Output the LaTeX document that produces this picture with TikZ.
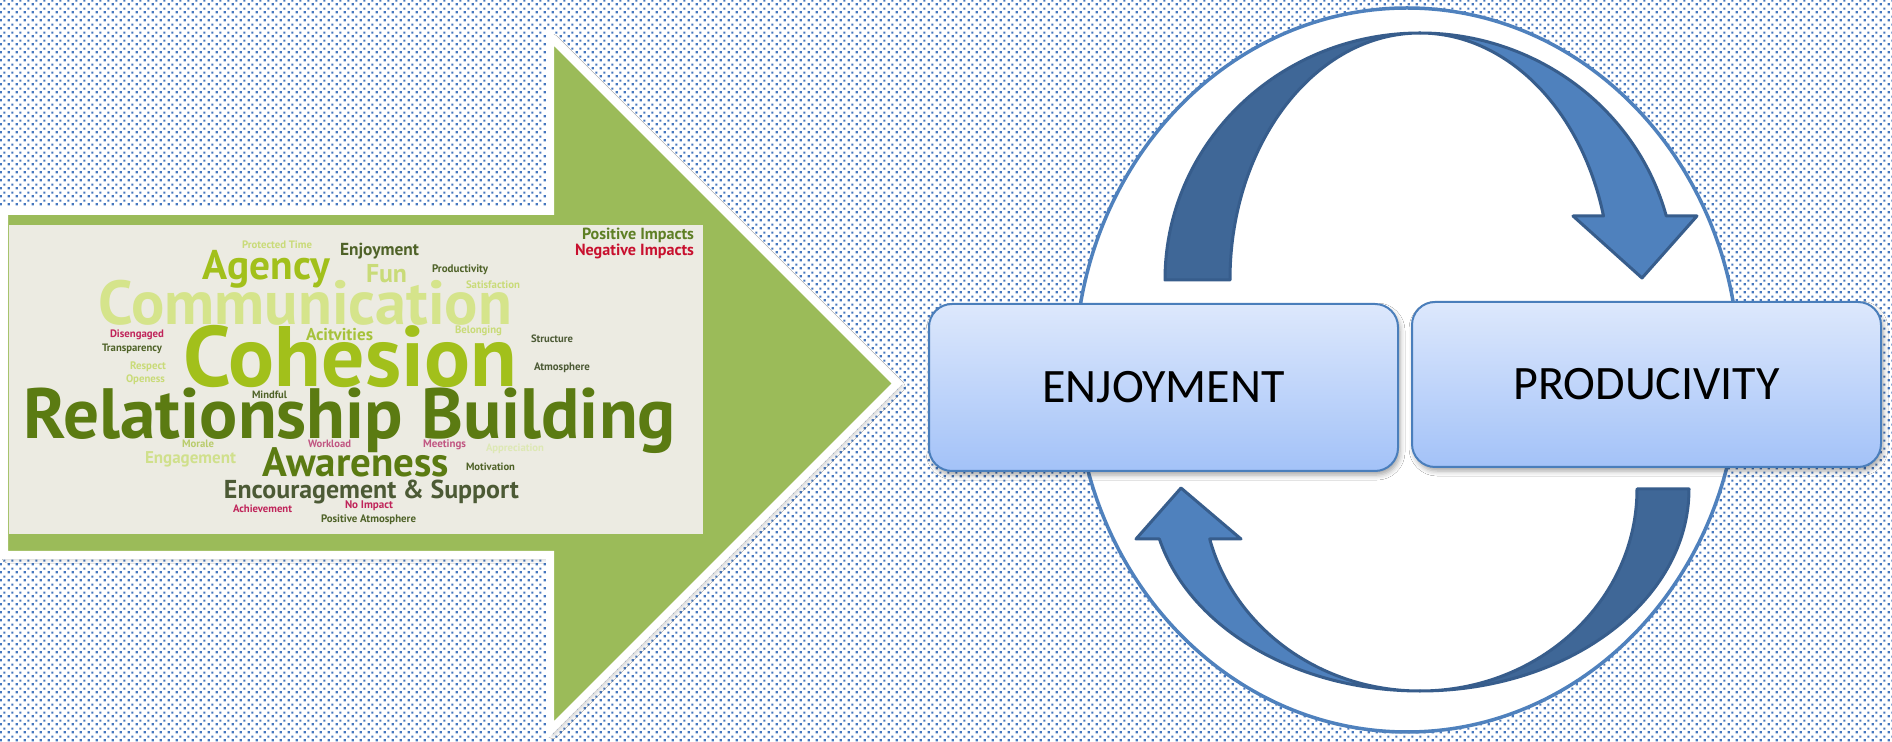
\documentclass[tikz,border=0pt]{standalone}
\usepackage{fontspec}
\usepackage{graphicx}
\usetikzlibrary{patterns,shadows.blur}
\newfontfamily\wcfont{PT Sans}
\newfontfamily\boxfont{Carlito}

% staggered dot texture of the backdrop
\pgfdeclarepatternformonly{bgdots}{\pgfpointorigin}{\pgfqpoint{4pt}{4pt}}{\pgfqpoint{4pt}{4pt}}{%
  \pgfpathrectangle{\pgfqpoint{0.4pt}{0.4pt}}{\pgfqpoint{1.25pt}{1.25pt}}%
  \pgfpathrectangle{\pgfqpoint{2.4pt}{2.4pt}}{\pgfqpoint{1.25pt}{1.25pt}}%
  \pgfusepath{fill}}

\definecolor{dotblue}{HTML}{4677BE}
\definecolor{arrowgreen}{HTML}{9BBB59}
\definecolor{cloudbg}{HTML}{ECEBE2}
\definecolor{ringblue}{HTML}{4F81BD}
\definecolor{bandlight}{HTML}{4F81BD}
\definecolor{banddark}{HTML}{3F6797}
\definecolor{bandline}{HTML}{375D8C}
\definecolor{boxtop}{HTML}{DDE8FC}
\definecolor{boxbot}{HTML}{A3C2F8}
\definecolor{boxline}{HTML}{4A7EBB}
% word colours
\definecolor{cPos}{HTML}{5E7F24}
\definecolor{cNeg}{HTML}{C8102E}
\definecolor{cPale}{HTML}{C9DB78}
\definecolor{cDark}{HTML}{4F6228}
\definecolor{cGrey}{HTML}{4C5A35}
\definecolor{cLime}{HTML}{A2C01B}
\definecolor{cAct}{HTML}{A6C23A}
\definecolor{cComm}{HTML}{D5E48B}
\definecolor{cOlive}{HTML}{5B7B12}
\definecolor{cCrim}{HTML}{C0245A}
\definecolor{cPink}{HTML}{C15682}
\definecolor{cMor}{HTML}{B9CC6C}
\definecolor{cAppr}{HTML}{DDE8B4}
\definecolor{cEng}{HTML}{D0E08C}

\newlength\wcu
\setlength\wcu{0.5pt}
% one word of the cloud: name, x, y, width, colour, text
\newcommand\cw[6]{\node[cloudword,text=#5] (#1) at (#2,-#3) {\resizebox{#4\wcu}{!}{#6}};}

\begin{document}
\begin{tikzpicture}[x=0.5pt,y=0.5pt,
  cloudword/.style={inner sep=0pt,outer sep=0pt,anchor=center,text depth=0pt,font=\wcfont\bfseries},
  bigarrow/.style={fill=arrowgreen,draw=white,line width=4pt,miter limit=20,
    blur shadow={shadow xshift=1.5pt,shadow yshift=-1.5pt,shadow blur radius=2.5pt,shadow opacity=35}},
  ring/.style={fill=white,draw=ringblue,line width=1.75pt},
  banddarkpart/.style={fill=banddark,draw=bandline,line width=1.5pt,line join=round},
  bandlightpart/.style={fill=bandlight,draw=bandline,line width=1.5pt,line join=round},
  stagebox/.style={rectangle,rounded corners=11.5pt,minimum width=234.5pt,minimum height=83.5pt,
    top color=boxtop,bottom color=boxbot,draw=boxline,line width=1pt,
    font=\boxfont\fontsize{24}{28}\selectfont,text=black,
    blur shadow={shadow xshift=1pt,shadow yshift=-2pt,shadow blur radius=2.5pt,shadow opacity=35}}
]
\useasboundingbox (0,0) rectangle (1892,-742);

% backdrop
\fill[white] (0,0) rectangle (1892,-742);
\fill[pattern=bgdots,pattern color=dotblue] (0,0) rectangle (1892,-742);

% green block arrow with white rim
\path[bigarrow] (4,-211) -- (550,-211) -- (550,-36.3) -- (897.2,-383.5)
  -- (550,-730.7) -- (550,-555) -- (4,-555) -- cycle;

% word cloud panel
\fill[cloudbg] (9,-225) rectangle (703,-534);
\cw{wpos}{638}{234}{112}{cPos}{Positive Impacts}
\cw{wneg}{634.5}{250}{119}{cNeg}{Negative Impacts}
\cw{wprot}{277}{245}{70}{cPale}{Protected Time}
\cw{wenj}{379.5}{249}{79}{cDark}{Enjoyment}
\cw{wagency}{266.5}{265}{127}{cLime}{Agency}
\cw{wfun}{386.5}{273}{41}{cPale}{Fun}
\cw{wprod}{460}{269}{56}{cDark}{Productivity}
\cw{wsat}{493}{285}{54}{cPale}{Satisfaction}
\cw{wcomm}{305.5}{302}{413}{cComm}{Communication}
\cw{wdis}{137}{334}{54}{cCrim}{Disengaged}
\cw{wtrans}{132}{348}{60}{cDark}{Transparency}
\cw{wact}{339.5}{334}{67}{cAct}{Acitvities}
\cw{wbel}{478.5}{330}{47}{cPale}{Belonging}
\cw{wstruct}{552}{339}{42}{cGrey}{Structure}
\cw{wcoh}{350.5}{356}{333}{cLime}{Cohesion}
\cw{wresp}{148}{366}{36}{cPale}{Respect}
\cw{watmo}{562}{367}{56}{cGrey}{Atmosphere}
\cw{wopen}{145.5}{379}{39}{cPale}{Openess}
\cw{wmind}{269.5}{395}{35}{cDark}{Mindful}
\cw{wrel}{350}{413}{652}{cOlive}{Relationship Building}
\cw{wmor}{198}{444}{32}{cMor}{Morale}
\cw{wwork}{329.5}{444}{43}{cPink}{Workload}
\cw{wmeet}{444.5}{444}{43}{cPink}{Meetings}
\cw{wappr}{515}{448}{58}{cAppr}{Appreciation}
\cw{weng}{190.5}{458}{91}{cEng}{Engagement}
\cw{wawa}{356}{462}{186}{cOlive}{Awareness}
\cw{wmot}{490.5}{467}{49}{cDark}{Motivation}
\cw{wenc}{371.5}{489}{295}{cGrey}{Encouragement \& Support}
\cw{wach}{262.5}{509}{59}{cCrim}{Achievement}
\cw{wnoimp}{369}{505}{48}{cCrim}{No Impact}
\cw{wposat}{368.5}{519}{95}{cDark}{Positive Atmosphere}

% cycle ring
\draw[ring] (1407,-370) ellipse [x radius=166pt, y radius=181pt];

% upper curved arrow: dark tail on the left, light head on the right
\path[banddarkpart] (1165,-280)
  arc[start angle=180, end angle=90, x radius=127.5pt, y radius=123.5pt]
  arc[start angle=90, end angle=180, x radius=95pt, y radius=123.5pt] -- cycle;
\path[bandlightpart] (1420,-33)
  arc[start angle=90, end angle=15.02, x radius=127.5pt, y radius=123.5pt]
  -- (1697,-216) -- (1642,-278) -- (1573,-216) -- (1603.5,-216)
  arc[start angle=15.02, end angle=90, x radius=95pt, y radius=123.5pt] -- cycle;

% lower curved arrow: dark tail on the right, light head on the left
\path[banddarkpart] (1689,-489)
  arc[start angle=0, end angle=-90, x radius=134.5pt, y radius=101pt]
  arc[start angle=-90, end angle=0, x radius=108.5pt, y radius=101pt] -- cycle;
\path[bandlightpart] (1420,-691)
  arc[start angle=-90, end angle=-165.67, x radius=134.5pt, y radius=101pt]
  -- (1136,-539) -- (1181,-488) -- (1241,-539) -- (1209.7,-539)
  arc[start angle=-165.67, end angle=-90, x radius=108.5pt, y radius=101pt] -- cycle;

% the two stages
\node[stagebox] (enjoy) at (1163.5,-387.5) {ENJOYMENT};
\node[stagebox,minimum height=82.5pt] (produc) at (1646.5,-384.5) {PRODUCIVITY};
\end{tikzpicture}
\end{document}
